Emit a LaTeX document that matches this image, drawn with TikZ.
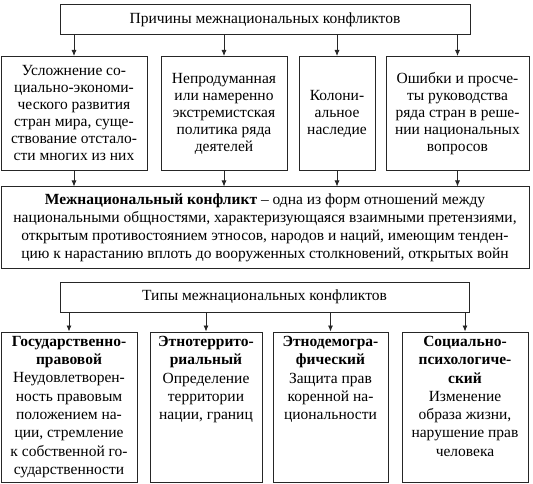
\documentclass[tikz,border=0pt]{standalone}
\usepackage{fontspec}
\setmainfont{Liberation Serif}
\usetikzlibrary{arrows.meta,positioning}
\begin{document}
\begin{tikzpicture}[x=1pt,y=-1pt,
  box/.style={draw=black!85,line width=1pt,inner sep=0pt,align=center,
    font=\fontsize{15.5}{17}\selectfont},
  btext/.style={inner sep=0pt,align=center,anchor=north,
    font=\fontsize{15.5}{18.3}\selectfont},
  arr/.style={draw=black!85,line width=0.8pt,-{Latex[length=6pt,width=5pt]}}]
\useasboundingbox (0,0) rectangle (533,484);
% top
\node[box,minimum width=410pt,minimum height=30pt] (top) at (265,20) {Причины межнациональных конфликтов};
% row 1
\node[box,minimum width=146pt,minimum height=114pt] (A) at (74,113.5)
 {Усложнение со-\\циально-экономи-\\ческого развития\\стран мира, суще-\\ствование отстало-\\сти многих из них};
\node[box,minimum width=126pt,minimum height=114pt] (B) at (224,113.5)
 {Непродуманная\\или намеренно\\экстремистская\\политика ряда\\деятелей};
\node[box,minimum width=76pt,minimum height=114pt] (C) at (337,113.5)
 {Колони-\\альное\\наследие};
\node[box,minimum width=143pt,minimum height=114pt] (D) at (457.5,113.5)
 {Ошибки и просче-\\ты руководства\\ряда стран в реше-\\нии национальных\\вопросов};
% definition
\node[box,minimum width=528pt,minimum height=81pt,font=\fontsize{15.5}{18}\selectfont] (def) at (265,227.5)
 {\textbf{Межнациональный конфликт} – одна из форм отношений между\\
  национальными общностями, характеризующаяся взаимными претензиями,\\
  открытым противостоянием этносов, народов и наций, имеющим тенден-\\
  цию к нарастанию вплоть до вооруженных столкновений, открытых войн};
% types
\node[box,minimum width=409pt,minimum height=30pt] (types) at (264.5,297) {Типы межнациональных конфликтов};
% bottom boxes
\node[box,minimum width=136pt,minimum height=150pt] (E) at (69,407) {};
\node[box,minimum width=112pt,minimum height=150pt] (F) at (206,407) {};
\node[box,minimum width=115pt,minimum height=150pt] (G) at (330.5,407) {};
\node[box,minimum width=126pt,minimum height=150pt] (H) at (465,407) {};
\node[btext] (Et) at ([yshift=-4.5pt]E.north)
 {\textbf{Государственно-}\\\textbf{правовой}\\Неудовлетворен-\\ность правовым\\положением на-\\ции, стремление\\к собственной го-\\сударственности};
\node[btext] (Ft) at ([yshift=-4.5pt]F.north)
 {\textbf{Этнотеррито-}\\\textbf{риальный}\\Определение\\территории\\нации, границ};
\node[btext] (Gt) at ([yshift=-4.5pt]G.north)
 {\textbf{Этнодемогра-}\\\textbf{фический}\\Защита прав\\коренной на-\\циональности};
\node[btext] (Ht) at ([yshift=-4.5pt]H.north)
 {\textbf{Социально-}\\\textbf{психологиче-}\\\textbf{ский}\\Изменение\\образа жизни,\\нарушение прав\\человека};
% arrows
\foreach \n in {A,B,C,D}{
  \draw[arr] (\n.north |- top.south) -- (\n.north);
  \draw[arr] (\n.south) -- (\n.south |- def.north);
}
\foreach \n in {E,F,G,H}{
  \draw[arr] (\n.north |- types.south) -- (\n.north);
}
\end{tikzpicture}
\end{document}
